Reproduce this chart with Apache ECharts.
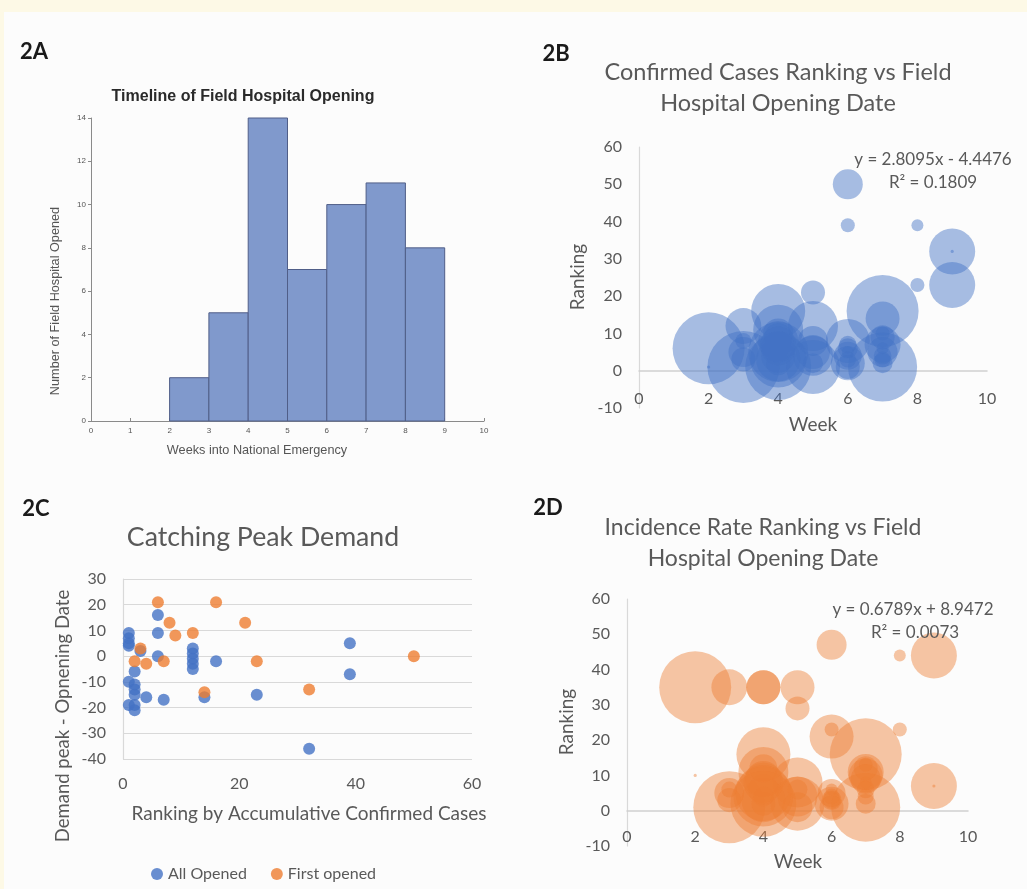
<!DOCTYPE html>
<html><head><meta charset="utf-8">
<script src="https://cdn.jsdelivr.net/npm/echarts@6/dist/echarts.min.js"></script>
<style>
html,body{margin:0;padding:0;background:#fdf9e6;overflow:hidden;}
#bg{position:absolute;left:4px;top:12px;width:1023px;height:877px;background:#fcfcfc;}
#chart{position:absolute;left:0;top:0;width:1027px;height:889px;}
</style></head><body><div id="bg"></div><div id="chart"></div>
<script>
// ---- 2A histogram ----
const histBinStart = [2, 3, 4, 5, 6, 7, 8];
const histBinEnd   = [3, 4, 5, 6, 7, 8, 9];
const histCounts   = [2, 5, 14, 7, 10, 11, 8];
const histXTicks = [0,1,2,3,4,5,6,7,8,9,10];

// ---- 2B / 2D bubbles (same hospitals) ----
const bubbleWeek = [2,2, 3,3,3,3,3, 4,4,4,4,4,4,4,4,4,4,4,4,4,4, 5,5,5,5,5,5,5, 6,6,6,6,6,6,6,6,6,6, 7,7,7,7,7,7,7,7,7,7,7, 8,8, 9,9,9];
const bubbleCapacity = [2500,5, 2500,620,434,278,123,
  1406,1206,2100,1736,557,557,772,934,434,278,625,193,378,1512,
  278,1206,1406,557,772,434,193,
  434,95,934,557,378,278,193,123,69,150,
  2500,2300,557,625,193,434,278,123,69,95,150,
  69,95, 1020,1020,5];
const casesRanking = [6,1, 1,12,5,3,8,
  16,11,1,5,6,4,8,3,10,2,7,5,9,3,
  21,12,1,5,4,8,2,
  50,39,8,2,4,1,6,3,5,7,
  16,1,14,7,2,5,9,3,6,10,4,
  39,23, 32,23,32];
const incidenceRanking = [35,10, 1,35,5,3,6,
  16,11,2,4,35,35,8,3,6,2,9,4,12,5,
  29,8,2,35,4,1,6,
  47,23,21,2,5,1,3,4,6,3,
  16,1,10,11,2,9,12,4,8,13,6,
  44,23, 7,44,7];

// ---- 2C scatter ----
const allOpenedRank = [1,1,1,1,1,1, 2,2,2,2,2,2, 3, 4, 6,6,6, 7, 12,12,12,12,12, 14, 16, 23, 32, 39,39];
const allOpenedDiff = [9,7,5,4,-10,-19, -6,-11,-13,-15,-19,-21, 2, -16, 16,9,0, -17, 3,1,-1,-3,-5, -16, -2, -15, -36, 5,-7];
const firstOpenedRank = [6, 8, 9, 3, 2, 4, 7, 12, 14, 16, 21, 23, 32, 50];
const firstOpenedDiff = [21, 13, 8, 3, -2, -3, -2, 9, -14, 21, 13, -2, -13, 0];

const histData = histBinStart.map((s, i) => [s, histBinEnd[i], histCounts[i]]);
const casesData = bubbleWeek.map((w, i) => [w, casesRanking[i], bubbleCapacity[i]]);
const incidenceData = bubbleWeek.map((w, i) => [w, incidenceRanking[i], bubbleCapacity[i]]);
const allData = allOpenedRank.map((r, i) => [r, allOpenedDiff[i]]);
const firstData = firstOpenedRank.map((r, i) => [r, firstOpenedDiff[i]]);

const GREY = '#595959';
const F = 'Lato';
const bubbleSize = v => 72 * Math.sqrt(v[2] / 2500);

function excelX(gi, max, interval, margin) {
  return { gridIndex: gi, type: 'value', min: 0, max: max, interval: interval,
    axisLine: { show: true, onZero: true, lineStyle: { color: '#d0d0d0', width: 1.5 } },
    axisTick: { show: false }, splitLine: { show: false },
    axisLabel: { fontSize: 16, color: GREY, fontFamily: F, margin: margin } };
}
function excelY(gi, min, max, interval, split) {
  return { gridIndex: gi, type: 'value', min: min, max: max, interval: interval,
    axisLine: { show: true, onZero: false, lineStyle: { color: '#d9d9d9', width: 1.2 } },
    axisTick: { show: false },
    splitLine: { show: !!split, lineStyle: { color: '#d9d9d9', width: 1.2 } },
    axisLabel: { fontSize: 16, color: GREY, fontFamily: F, margin: 17 } };
}
function txt(x, y, text, size, opts) {
  opts = opts || {};
  return { type: 'text', x: x, y: y, rotation: opts.rot || 0, z: 100,
    style: { text: text, fill: opts.color || GREY, fontSize: size, fontFamily: opts.family || F,
      fontWeight: opts.weight || 'normal', align: 'center', verticalAlign: 'middle' } };
}

const chart = echarts.init(document.getElementById('chart'), null, { renderer: 'canvas' });
chart.setOption({
  animation: false,
  backgroundColor: 'transparent',
  grid: [
    { left: 91, top: 118, width: 393, height: 303 },
    { left: 639, top: 147, width: 348, height: 261 },
    { left: 123, top: 579, width: 349, height: 180 },
    { left: 627, top: 599, width: 341, height: 247 }
  ],
  xAxis: [
    { gridIndex: 0, type: 'value', min: 0, max: 10, interval: 1,
      axisLine: { show: true, lineStyle: { color: '#8a8a8a', width: 1 } },
      axisTick: { show: true, length: 3, inside: true, lineStyle: { color: '#8a8a8a' } },
      splitLine: { show: false },
      axisLabel: { fontSize: 8, color: '#555', fontFamily: 'Liberation Sans', margin: 6,
        formatter: v => String(histXTicks[histXTicks.indexOf(v)]) } },
    excelX(1, 10, 2, -17),
    Object.assign(excelX(2, 60, 20, 17), { axisLine: { show: false, onZero: false } }),
    excelX(3, 10, 2, -17)
  ],
  yAxis: [
    { gridIndex: 0, type: 'value', min: 0, max: 14, interval: 2,
      axisLine: { show: true, lineStyle: { color: '#8a8a8a', width: 1 } },
      axisTick: { show: true, length: 3, lineStyle: { color: '#8a8a8a' } },
      splitLine: { show: false },
      axisLabel: { fontSize: 8, color: '#555', fontFamily: 'Liberation Sans', margin: 5 } },
    excelY(1, -10, 60, 10, false),
    excelY(2, -40, 30, 10, true),
    excelY(3, -10, 60, 10, false)
  ],
  legend: {
    data: ['All Opened', 'First opened'], left: 146, top: 861, icon: 'circle',
    itemWidth: 12, itemHeight: 12, itemGap: 24,
    textStyle: { fontSize: 16, color: GREY, fontFamily: F }
  },
  series: [
    { type: 'custom', xAxisIndex: 0, yAxisIndex: 0, data: histData,
      encode: { x: [0, 1], y: 2 },
      renderItem: function (params, api) {
        const p0 = api.coord([api.value(0), api.value(2)]);
        const p1 = api.coord([api.value(1), 0]);
        return { type: 'rect',
          shape: { x: p0[0], y: p0[1], width: p1[0] - p0[0], height: p1[1] - p0[1] },
          style: { fill: '#8099cc', stroke: '#505e88', lineWidth: 1 } };
      } },
    { type: 'scatter', name: 'Confirmed', xAxisIndex: 1, yAxisIndex: 1, data: casesData,
      symbolSize: bubbleSize, itemStyle: { color: 'rgba(68,114,196,0.58)' } },
    { type: 'scatter', name: 'All Opened', xAxisIndex: 2, yAxisIndex: 2, data: allData,
      symbolSize: 12, itemStyle: { color: '#4472c4' } },
    { type: 'scatter', name: 'First opened', xAxisIndex: 2, yAxisIndex: 2, data: firstData,
      symbolSize: 12, itemStyle: { color: '#ed7d31' } },
    { type: 'scatter', name: 'Incidence', xAxisIndex: 3, yAxisIndex: 3, data: incidenceData,
      symbolSize: bubbleSize, itemStyle: { color: 'rgba(237,125,49,0.55)' } }
  ],
  graphic: [
    // panel labels
    txt(34, 52, '2A', 22, { weight: 'bold', color: '#1a1a1a' }),
    txt(556, 54, '2B', 22, { weight: 'bold', color: '#1a1a1a' }),
    txt(36, 509, '2C', 22, { weight: 'bold', color: '#1a1a1a' }),
    txt(548, 508, '2D', 22, { weight: 'bold', color: '#1a1a1a' }),
    // 2A
    txt(243, 97, 'Timeline of Field Hospital Opening', 16, { weight: 'bold', color: '#2a2a2a', family: 'Liberation Sans' }),
    txt(257, 450, 'Weeks into National Emergency', 12.7, { color: '#555', family: 'Liberation Sans' }),
    txt(55, 301, 'Number of Field Hospital Opened', 12.7, { color: '#555', family: 'Liberation Sans', rot: Math.PI / 2 }),
    // 2B
    txt(778, 72, 'Confirmed Cases Ranking vs Field', 23.5),
    txt(778, 103, 'Hospital Opening Date', 23.5),
    txt(933, 160, 'y = 2.8095x - 4.4476', 17),
    txt(933, 183, 'R² = 0.1809', 17),
    txt(813, 425, 'Week', 19),
    txt(578, 277, 'Ranking', 19, { rot: Math.PI / 2 }),
    // 2C
    txt(263, 537, 'Catching Peak Demand', 26.7),
    txt(309, 814, 'Ranking by Accumulative Confirmed Cases', 19),
    txt(63, 716, 'Demand peak - Opnening Date', 18.5, { rot: Math.PI / 2 }),
    // 2D
    txt(763, 528, 'Incidence Rate Ranking vs Field', 23),
    txt(763, 559, 'Hospital Opening Date', 23),
    txt(913, 610, 'y = 0.6789x + 8.9472', 17),
    txt(915, 633, 'R² = 0.0073', 17),
    txt(798, 862, 'Week', 19),
    txt(567, 722, 'Ranking', 19, { rot: Math.PI / 2 })
  ]
});
</script></body></html>
